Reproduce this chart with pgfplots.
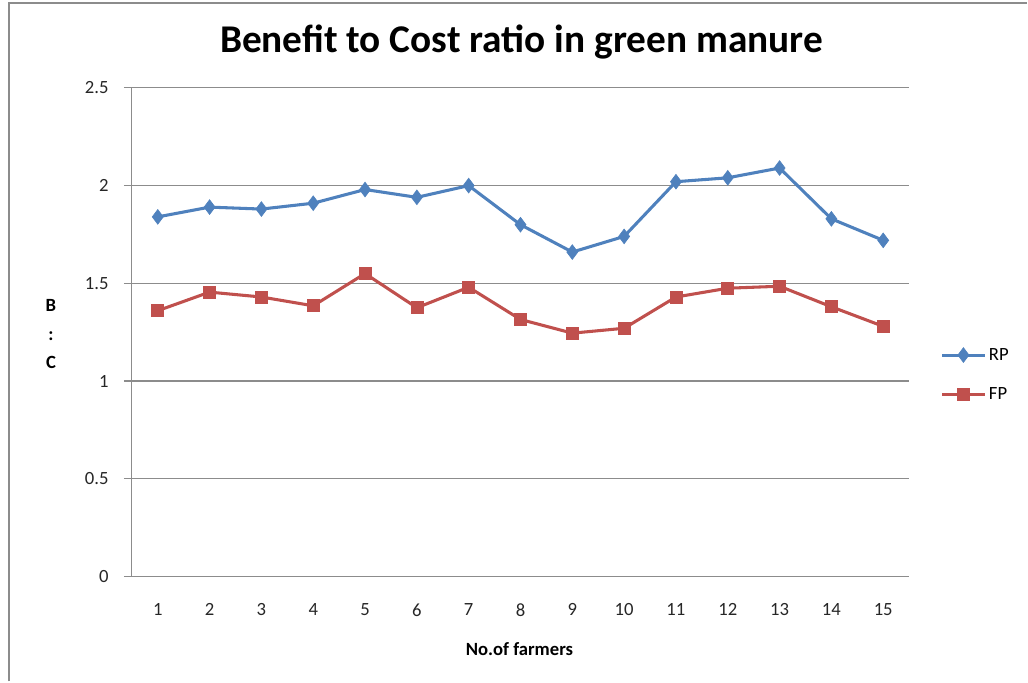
\documentclass[border=0pt]{standalone}
\usepackage{pgfplots}
\pgfplotsset{compat=1.18}
\usepackage{fontspec}
\setmainfont{Carlito}
\definecolor{rp}{HTML}{4F81BD}
\definecolor{fp}{HTML}{C0504D}
\definecolor{gridc}{HTML}{8C8C8C}
\begin{document}
\begin{tikzpicture}
\path (0pt,0pt) rectangle (771pt,511.5pt);
\draw[gridc,line width=1.5pt] (6.75pt,0pt) -- (6.75pt,509.25pt) -- (771pt,509.25pt);
\begin{axis}[
  at={(99pt,78.75pt)}, anchor=south west,
  scale only axis, width=583.5pt, height=366.75pt,
  xmin=0.5, xmax=15.5, ymin=0, ymax=2.5,
  axis x line*=bottom, axis y line*=left,
  axis line style={gridc,line width=0.8pt},
  xtick={1,...,15}, ytick={0,0.5,1,1.5,2,2.5},
  yticklabels={0,0.5,1,1.5,2,2.5},
  extra x ticks={0.5,1.5,...,15.5}, extra x tick labels={},
  extra x tick style={major tick length=6pt, tick style={gridc,line width=0.8pt}, grid=none},
  major x tick style={draw=none},
  major y tick style={gridc,line width=0.8pt},
  tick align=outside, major tick length=6pt,
  ymajorgrids, grid style={gridc,line width=0.8pt},
  tick label style={font=\fontsize{14}{16}\selectfont, text=black!85},
  xticklabel style={yshift=-11pt},
  yticklabel style={xshift=-8pt},
  /pgf/number format/assume math mode=true,
  legend style={at={(1.035,0.413)}, anchor=west, draw=none, fill=none,
    font=\fontsize{14}{16}\selectfont, row sep=15pt,
    legend cell align=left},
  legend image code/.code={\draw[#1,mark repeat=2,mark phase=2] plot coordinates {(0pt,0pt) (16pt,0pt) (32pt,0pt)};},
]
\addplot[rp, line width=2.3pt, mark=diamond*, mark size=5.5pt, mark options={solid,line width=0.5pt}] coordinates {
(1,1.84) (2,1.89) (3,1.88) (4,1.91) (5,1.98) (6,1.94) (7,2.00) (8,1.80)
(9,1.66) (10,1.74) (11,2.02) (12,2.04) (13,2.09) (14,1.83) (15,1.72)};
\addlegendentry{RP}
\addplot[fp, line width=2.3pt, mark=square*, mark size=4.5pt, mark options={solid,line width=0.5pt}] coordinates {
(1,1.36) (2,1.455) (3,1.43) (4,1.385) (5,1.55) (6,1.375) (7,1.48) (8,1.315)
(9,1.245) (10,1.27) (11,1.43) (12,1.475) (13,1.485) (14,1.38) (15,1.28)};
\addlegendentry{FP}
\end{axis}
\node[font=\fontsize{29.5}{34}\selectfont\bfseries] at (391.5pt,480pt) {Benefit to Cost ratio in green manure};
\node[font=\fontsize{14}{16}\selectfont\bfseries] at (390pt,24pt) {No.of farmers};
\node[font=\fontsize{14}{16}\selectfont\bfseries] at (38.25pt,282pt) {B};
\node[font=\fontsize{14}{16}\selectfont\bfseries] at (38.25pt,259.5pt) {:};
\node[font=\fontsize{14}{16}\selectfont\bfseries] at (38.25pt,239.25pt) {C};
\end{tikzpicture}
\end{document}
